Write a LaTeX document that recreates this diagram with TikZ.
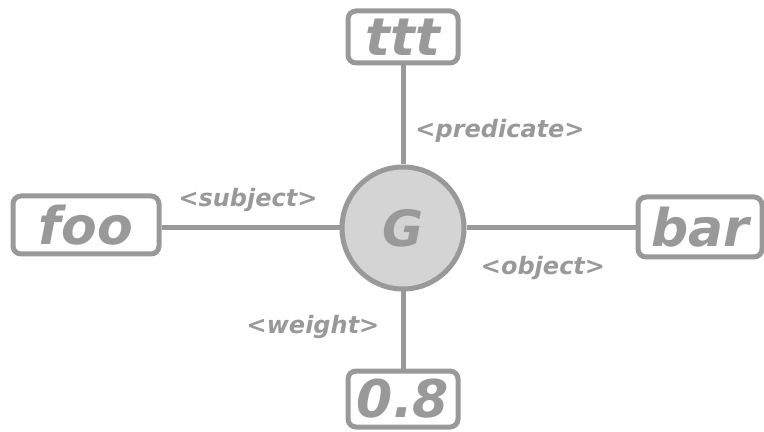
\documentclass[tikz,border=0pt]{standalone}
\usepackage{fontspec}
\setmainfont{DejaVu Sans}
\usepackage{xcolor}
\usepackage{tikz}
\usetikzlibrary{positioning}

\definecolor{linegray}{HTML}{999999}
\definecolor{fillgray}{HTML}{D4D4D4}

\begin{document}
\begin{tikzpicture}[
    x=0.5pt, y=-0.5pt,
    term/.style={draw=linegray, line width=2.5pt, rounded corners=4pt,
      fill=white, text=linegray, minimum height=26pt, inner sep=0pt,
      font=\fontsize{26}{26}\selectfont\bfseries\itshape},
    graphnode/.style={circle, draw=linegray, line width=2.5pt, fill=fillgray,
      text=linegray, minimum size=61pt, inner sep=0pt,
      font=\fontsize{25}{25}\selectfont\bfseries\itshape},
    role/.style={text=linegray, inner sep=0pt,
      font=\fontsize{12}{12}\selectfont\bfseries\itshape},
    link/.style={draw=linegray, line width=2.5pt},
  ]
  \useasboundingbox (0,0) rectangle (764,432);

  % centre
  \node[graphnode] (g) at (403,228) {G};

  % the four terms
  \node[term, minimum width=55pt] (ttt) at (403,37) {ttt};
  \node[term, minimum width=73pt, minimum height=29pt] (foo) at (86,225) {foo};
  \node[term, minimum width=62pt, minimum height=30pt] (bar) at (700,227) {bar};
  \node[term, minimum width=55pt, minimum height=28pt] (weight) at (403,399) {0.8};

  % roles
  \node[role] (predl) at (500,131) {<predicate>};
  \node[role] (subjl) at (248,200) {<subject>};
  \node[role] (objl) at (543,268) {<object>};
  \node[role] (weightl) at (313,327) {<weight>};

  % links
  \draw[link] (ttt) -- (g);
  \draw[link] (foo.east |- g) -- (g);
  \draw[link] (g) -- (bar.west |- g);
  \draw[link] (g) -- (weight);
\end{tikzpicture}
\end{document}
